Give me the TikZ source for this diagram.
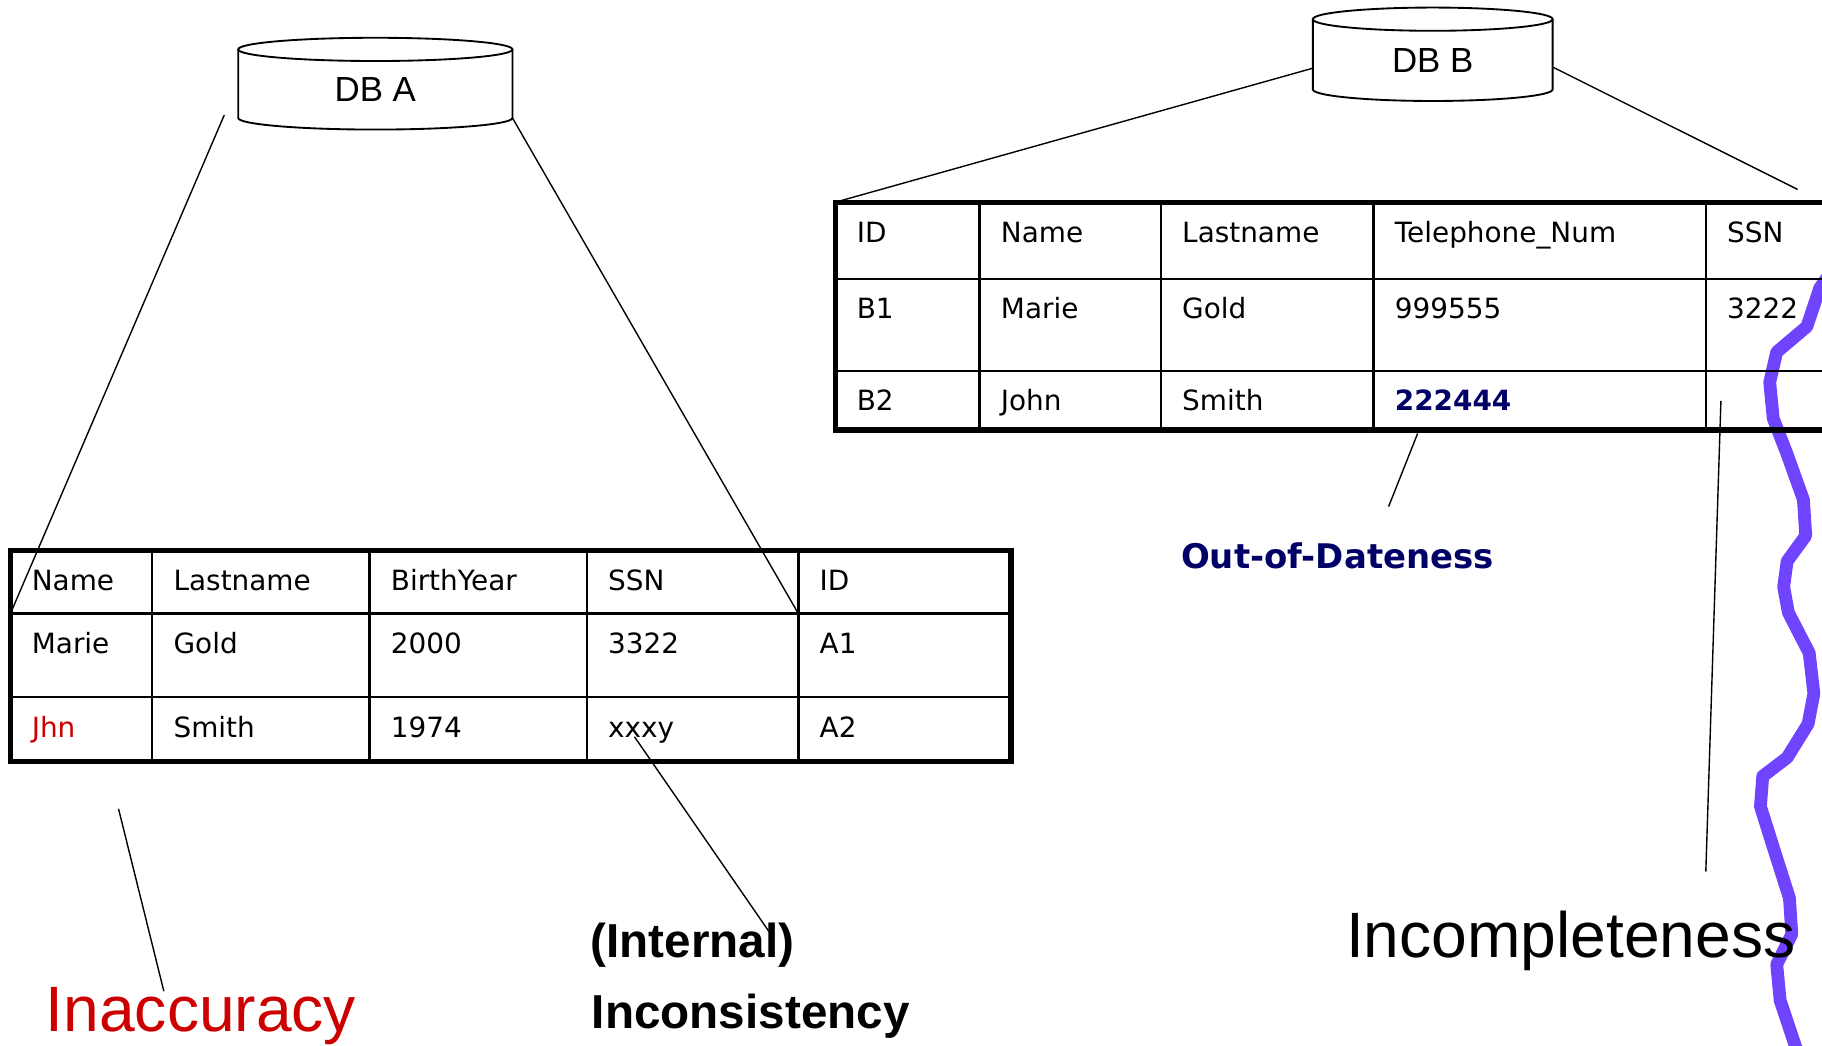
\documentclass[tikz,border=0pt]{standalone}
\usepackage{fontspec, tikz}
\setmainfont{Liberation Sans}
\newfontfamily\cellfont{DejaVu Sans}
\definecolor{errred}{RGB}{204,0,0}
\definecolor{oldblue}{RGB}{0,0,102}
\definecolor{cutline}{RGB}{112,68,255}
\newcommand{\drum}[2]{%
  \draw[drumline] (#1.north west) -- (#1.south west)
    arc[start angle=180, end angle=360, x radius=#2, y radius=5pt] -- (#1.north east);
  \draw[drumline] (#1.north) ellipse[x radius=#2, y radius=5pt];}

\begin{document}
\begin{tikzpicture}[x=0.5pt, y=-0.5pt]
\tikzstyle{db}=[rectangle, inner sep=0pt, outer sep=0pt,
                font=\fontsize{15}{18}\selectfont, text height=15.5pt, text depth=0pt]
\tikzstyle{drumline}=[line width=0.8pt]
\tikzstyle{cell}=[anchor=base west, inner sep=0pt, font=\cellfont\fontsize{12}{14}\selectfont]
\tikzstyle{frame}=[line width=2.2pt]
\tikzstyle{rule}=[line width=1pt]
\tikzstyle{pointer}=[line width=0.6pt]
\tikzstyle{big}=[anchor=base west, inner sep=0pt, font=\fontsize{27.6}{32}\selectfont]
\tikzstyle{tag}=[anchor=base west, inner sep=0pt, font=\bfseries\fontsize{20.5}{24}\selectfont]
\useasboundingbox (0,0) rectangle (1568,900);
\clip (0,0) rectangle (1568,900);

\draw[cutline, line width=5.5pt, line join=round]
  (1580,228)--(1566,248)--(1555,281)--(1529,303)--(1523,329)--(1526,360)--(1538,391)
  --(1552,430)--(1554,461)--(1538,483)--(1535,505)--(1539,527)--(1557,562)--(1561,597)
  --(1556,623)--(1538,652)--(1517,668)--(1515,694)--(1526,729)--(1540,773)--(1542,804)
  --(1529,830)--(1532,861)--(1545,900)--(1550,915);

	\node[db, minimum width=118pt, minimum height=29.5pt] (dbA) at (323,72) {DB A};
	\node[db, minimum width=103.2pt, minimum height=30.2pt] (dbB) at (1233,46.7) {DB B};
\drum{dbA}{59pt}
\drum{dbB}{51.6pt}

\foreach \x [count=\i] in {9,131,318,505,687,870}
  \foreach \y [count=\j] in {474,528,600,655}
    \coordinate (ta-\i-\j) at (\x,\y);
\foreach \x [count=\i] in {719,843,999,1182,1468,1640}
  \foreach \y [count=\j] in {174,240,319,370}
    \coordinate (tb-\i-\j) at (\x,\y);

\draw[rule] (ta-1-3)--(ta-6-3) foreach \i in {2,3,4} {(ta-\i-1)--(ta-\i-4)};
\draw[line width=1.4pt] (ta-1-2)--(ta-6-2) (ta-5-1)--(ta-5-4);
\draw[frame] (ta-1-1) rectangle (ta-6-4);
\draw[rule] (tb-1-2)--(tb-6-2) (tb-1-3)--(tb-6-3) foreach \i in {2,3,4,5} {(tb-\i-1)--(tb-\i-4)};
\draw[frame] (tb-1-1) rectangle (tb-6-4);

\foreach \txt [count=\i] in {Name,Lastname,BirthYear,SSN,ID}
	\node[cell] (a-\i-1) at ([shift={(18,34.5)}]ta-\i-1) {\txt};
\foreach \txt [count=\i] in {Marie,Gold,2000,3322,A1}
	\node[cell] (a-\i-2) at ([shift={(18,34.5)}]ta-\i-2) {\txt};
\foreach \txt [count=\i] in {\textcolor{errred}{Jhn},Smith,1974,xxxy,A2}
	\node[cell] (a-\i-3) at ([shift={(18,34.5)}]ta-\i-3) {\txt};
\foreach \txt [count=\i] in {ID,Name,Lastname,Telephone\_Num,SSN}
	\node[cell] (b-\i-1) at ([shift={(18,34.5)}]tb-\i-1) {\txt};
\foreach \txt [count=\i] in {B1,Marie,Gold,999555,3222}
	\node[cell] (b-\i-2) at ([shift={(18,34.5)}]tb-\i-2) {\txt};
\foreach \txt [count=\i] in {B2,John,Smith,\textbf{\textcolor{oldblue}{222444}}}
	\node[cell] (b-\i-3) at ([shift={(18,34.5)}]tb-\i-3) {\txt};

	\node[big, text=errred] (inacc) at (39,888) {Inaccuracy};
	\node[tag] (internal) at (508,824) {(Internal)};
	\node[tag] (incons) at (509,885) {Inconsistency};
	\node[anchor=base west, inner sep=0pt, text=oldblue,
	      font=\cellfont\bfseries\fontsize{14.6}{17}\selectfont] (ood) at (1016,489) {Out-of-Dateness};
	\node[big] (incompl) at (1158,824) {Incompleteness};

\coordinate (aFoot) at (193,99);
\coordinate (bEnd) at (1547,163);
\coordinate (inaccTop) at (102,696);
\coordinate (inaccTip) at (141,853);
\coordinate (xxxyMark) at (546,634);
\coordinate (internalTip) at (662,802);
\coordinate (phoneMark) at (1220,373);
\coordinate (oodTip) at (1195,436);
\coordinate (ssnMark) at (1481,345);
\coordinate (incomplTip) at (1468,750);
\draw[pointer] (aFoot)--(ta-1-2) (dbA.south east)--(ta-5-2);
\draw[pointer] ([yshift=-6pt]dbB.west)--(tb-1-1) ([yshift=-5.5pt]dbB.east)--(bEnd);
\draw[pointer] (inaccTop)--(inaccTip) (xxxyMark)--(internalTip)
  (phoneMark)--(oodTip) (ssnMark)--(incomplTip);
\end{tikzpicture}
\end{document}
